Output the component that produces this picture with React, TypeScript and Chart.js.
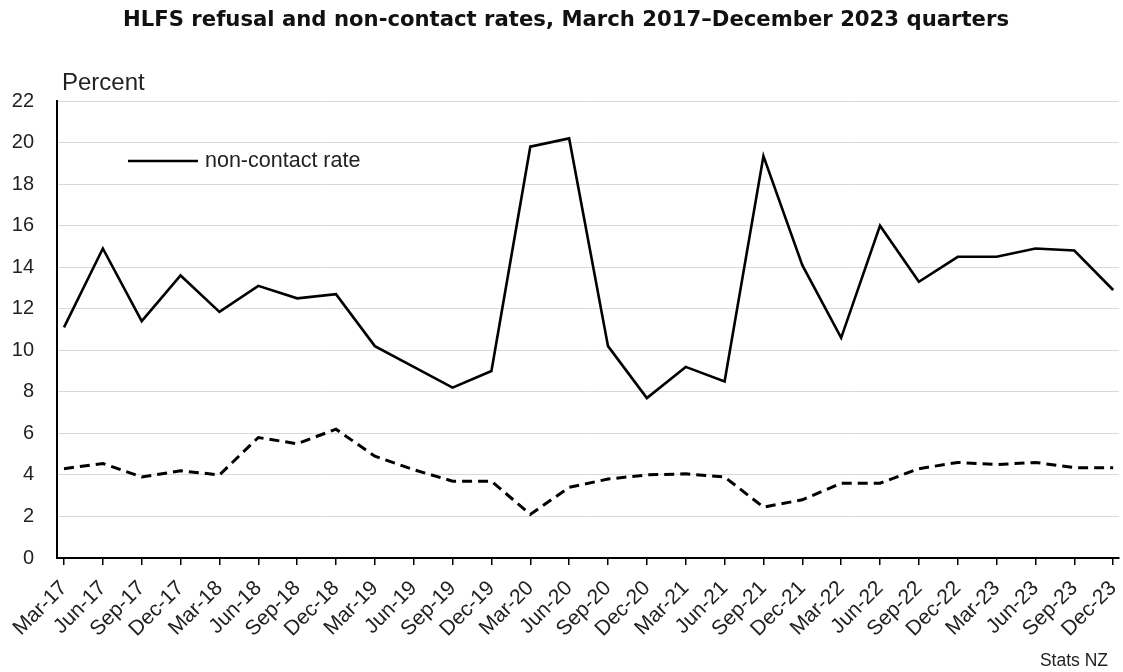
import React, { useEffect, useRef } from 'react';
import { Chart, registerables } from 'chart.js';

Chart.register(...registerables);

const quarters = [
  'Mar-17', 'Jun-17', 'Sep-17', 'Dec-17',
  'Mar-18', 'Jun-18', 'Sep-18', 'Dec-18',
  'Mar-19', 'Jun-19', 'Sep-19', 'Dec-19',
  'Mar-20', 'Jun-20', 'Sep-20', 'Dec-20',
  'Mar-21', 'Jun-21', 'Sep-21', 'Dec-21',
  'Mar-22', 'Jun-22', 'Sep-22', 'Dec-22',
  'Mar-23', 'Jun-23', 'Sep-23', 'Dec-23',
];

const nonContactRate = [
  11.1, 14.9, 11.4, 13.6,
  11.85, 13.1, 12.5, 12.7,
  10.2, 9.2, 8.2, 9.0,
  19.8, 20.2, 10.2, 7.7,
  9.2, 8.5, 19.35, 14.1,
  10.6, 16.0, 13.3, 14.5,
  14.5, 14.9, 14.8, 12.9,
];

const refusalRate = [
  4.3, 4.55, 3.9, 4.2,
  4.0, 5.8, 5.5, 6.2,
  4.9, 4.25, 3.7, 3.7,
  2.1, 3.4, 3.8, 4.0,
  4.05, 3.9, 2.45, 2.8,
  3.6, 3.6, 4.3, 4.6,
  4.5, 4.6, 4.35, 4.35,
];

const yMin = 0;
const yMax = 22;
const yStep = 2;

const titleText = 'HLFS refusal and non-contact rates, March 2017\u2013December 2023 quarters';
const yAxisTitle = 'Percent';
const sourceText = 'Stats NZ';
const legendLabel = 'non-contact rate';

const FONT = '"Liberation Sans", Arial, sans-serif';
const TITLE_FONT = '"DejaVu Sans", "Liberation Sans", sans-serif';

const textPlugin = {
  id: 'extraText',
  afterDraw(chart: any) {
    const ctx = chart.ctx;
    ctx.save();
    // title
    ctx.fillStyle = '#111';
    ctx.font = `bold 21.2px ${TITLE_FONT}`;
    ctx.textAlign = 'center';
    ctx.textBaseline = 'middle';
    ctx.fillText(titleText, 566, 20);
    // y-axis title
    ctx.font = `24px ${FONT}`;
    ctx.textAlign = 'left';
    ctx.textBaseline = 'alphabetic';
    ctx.fillStyle = '#222';
    ctx.fillText(yAxisTitle, 62, 90);
    // legend
    ctx.strokeStyle = '#000';
    ctx.lineWidth = 2.6;
    ctx.beginPath();
    ctx.moveTo(128, 161);
    ctx.lineTo(198, 161);
    ctx.stroke();
    ctx.font = `21.5px ${FONT}`;
    ctx.textBaseline = 'middle';
    ctx.fillStyle = '#222';
    ctx.fillText(legendLabel, 205, 161);
    // source
    ctx.font = `17.5px ${FONT}`;
    ctx.textAlign = 'right';
    ctx.fillText(sourceText, 1108, 661);
    ctx.restore();
  },
};

export default function App() {
  const canvasRef = useRef<HTMLCanvasElement | null>(null);

  useEffect(() => {
    document.body.style.margin = '0';
    const canvas = canvasRef.current;
    if (!canvas) return;
    const chart = new Chart(canvas, {
      type: 'line',
      data: {
        datasets: [
          {
            label: 'non-contact rate',
            data: nonContactRate.map((v, i) => ({ x: i, y: v })),
            borderColor: '#000',
            borderWidth: 2.6,
            pointRadius: 0,
            tension: 0,
            fill: false,
          },
          {
            label: 'refusal rate',
            data: refusalRate.map((v, i) => ({ x: i, y: v })),
            borderColor: '#000',
            borderWidth: 3,
            borderDash: [10, 6],
            pointRadius: 0,
            tension: 0,
            fill: false,
          },
        ],
      },
      options: {
        responsive: false,
        animation: false,
        devicePixelRatio: 1,
        layout: { padding: { top: 101, left: 0, right: 4, bottom: 0 } },
        plugins: {
          legend: { display: false },
          title: { display: false },
          tooltip: { enabled: false },
        },
        scales: {
          x: {
            type: 'linear',
            min: -0.18,
            max: 27.15,
            afterBuildTicks: (axis: any) => {
              axis.ticks = quarters.map((_, i) => ({ value: i }));
            },
            afterFit: (axis: any) => {
              axis.height = 114;
              axis.paddingLeft = 0;
              axis.paddingRight = 0;
            },
            ticks: {
              autoSkip: false,
              minRotation: 45,
              maxRotation: 45,
              padding: 11,
              color: '#222',
              font: { family: FONT, size: 21 },
              callback: (v: any) => quarters[Math.round(Number(v))] ?? '',
            },
            grid: {
              display: true,
              drawOnChartArea: false,
              drawTicks: true,
              tickLength: 7,
              color: '#000',
              lineWidth: 1.5,
            },
            border: { display: true, color: '#000', width: 2 },
          },
          y: {
            min: yMin,
            max: yMax,
            afterFit: (axis: any) => {
              axis.width = 57;
              axis.paddingTop = 0;
              axis.paddingBottom = 0;
            },
            ticks: {
              stepSize: yStep,
              padding: 23,
              color: '#222',
              font: { family: FONT, size: 20 },
            },
            grid: {
              color: '#d9d9d9',
              lineWidth: 1,
              drawTicks: false,
            },
            border: { display: true, color: '#000', width: 2 },
          },
        },
      },
      plugins: [textPlugin],
    });
    return () => chart.destroy();
  }, []);

  return (
    <div style={{ position: 'relative', width: 1123, height: 672, background: '#fff' }}>
      <canvas ref={canvasRef} width={1123} height={672} />
    </div>
  );
}
